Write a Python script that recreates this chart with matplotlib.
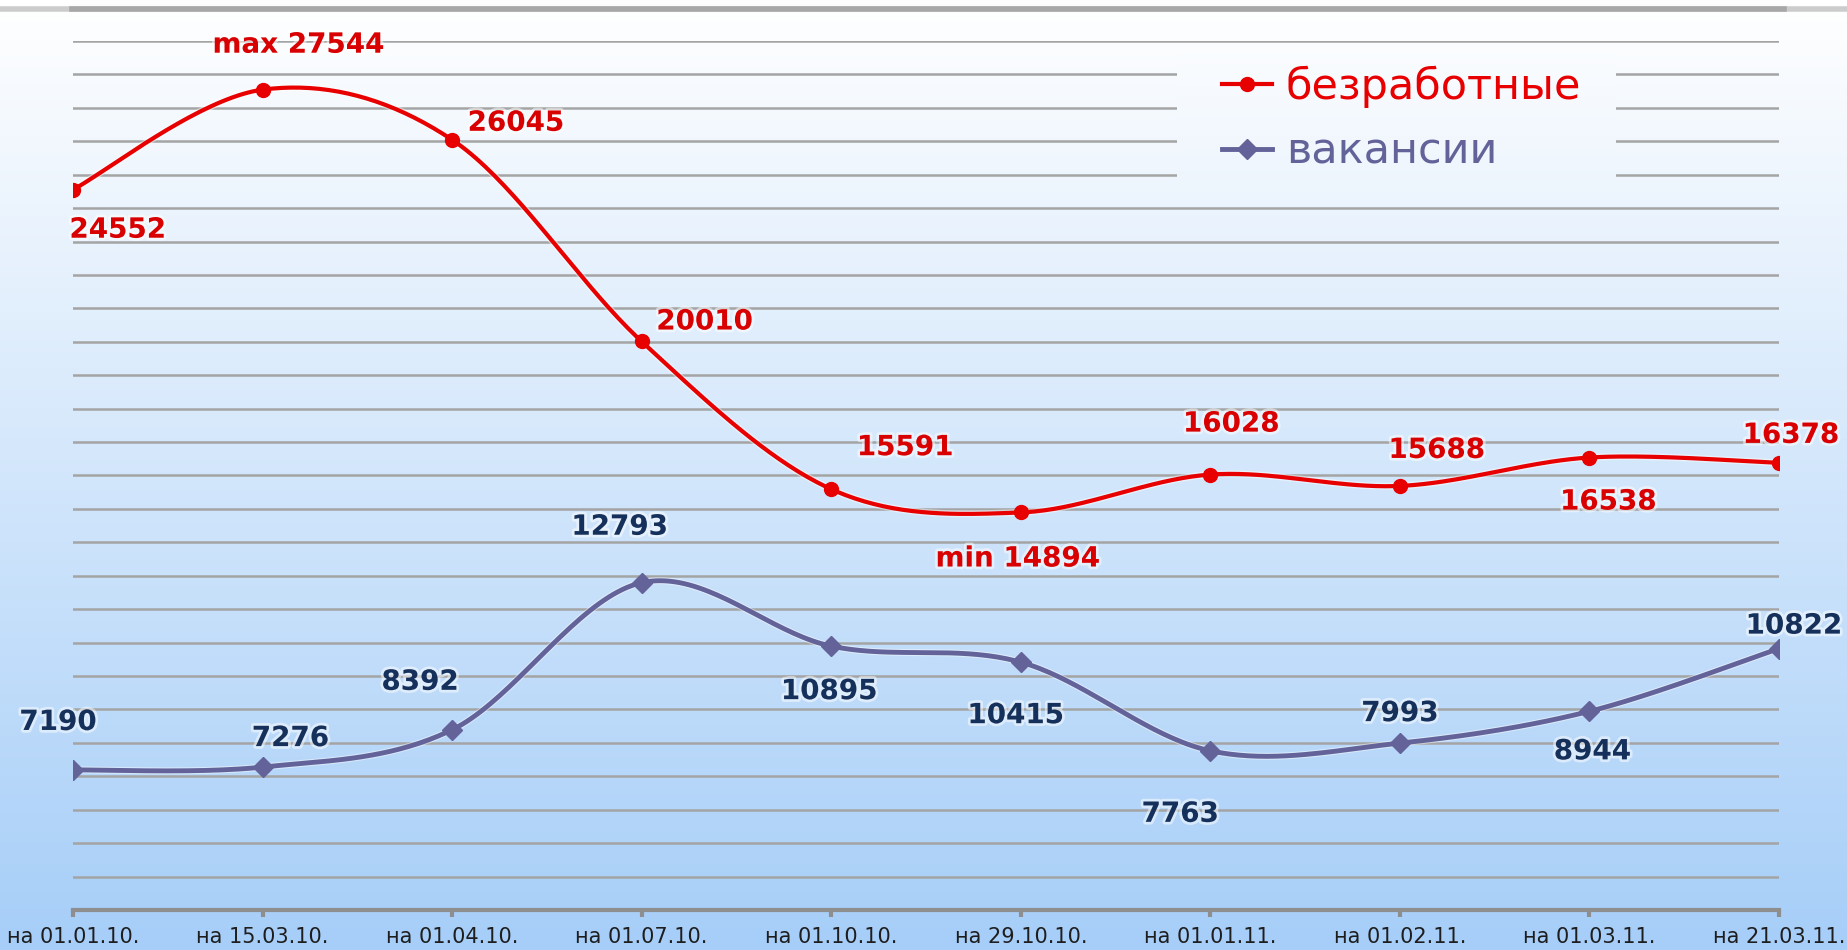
import numpy as np
import matplotlib
matplotlib.use('Agg')
import matplotlib.pyplot as plt
import matplotlib.patheffects as pe
from matplotlib.lines import Line2D
from matplotlib import font_manager

# chart data
dates = ['на 01.01.10.', 'на 15.03.10.', 'на 01.04.10.', 'на 01.07.10.', 'на 01.10.10.',
         'на 29.10.10.', 'на 01.01.11.', 'на 01.02.11.', 'на 01.03.11.', 'на 21.03.11.']
unemployed = [24552, 27544, 26045, 20010, 15591, 14894, 16028, 15688, 16538, 16378]
vacancies = [7190, 7276, 8392, 12793, 10895, 10415, 7763, 7993, 8944, 10822]
unemployed_text = ['24552', 'max 27544', '26045', '20010', '15591',
                   'min 14894', '16028', '15688', '16538', '16378']
vacancies_text = [str(v) for v in vacancies]

# label offsets in pixels (dx, dy) from the marker
unemp_off = [(45, -40), (36, 45), (64, 17), (63, 20), (74, 42),
             (-3, -46), (21, 51), (37, 36), (19, -44), (12, 28)]
vac_off = [(-15, 48), (28, 29), (-32, 48), (-22, 56), (-2, -45),
           (-5, -53), (-30, -63), (0, 30), (3, -40), (15, 23)]

RED = '#e80000'
RED_TXT = '#d80000'
VAC = '#63639a'
VAC_TXT = '#15305a'
W, H = 1847, 950

TOP = np.array([1.0, 1.0, 1.0])
BOTTOM = np.array([166, 206, 248]) / 255


def gradient(y0, y1, n=256):
    # y0, y1 : pixel rows from the top of the figure
    g = np.linspace(y0 / H, y1 / H, n)[:, None, None]
    img = TOP[None, None, :] * (1 - g) + BOTTOM[None, None, :] * g
    return np.repeat(img, 2, axis=1)


# excel-like smoothed line (bezier through points)
def smooth(y, n=40):
    y = np.asarray(y, float)
    x = np.arange(len(y), dtype=float)
    px = np.concatenate([[x[0]], x, [x[-1]]])
    py = np.concatenate([[y[0]], y, [y[-1]]])
    t = np.linspace(0, 1, n, endpoint=False)
    xs, ys = [], []
    for i in range(len(y) - 1):
        for p, out in ((px, xs), (py, ys)):
            p0, p1, p2, p3 = p[i], p[i + 1], p[i + 2], p[i + 3]
            c1 = p1 + (p2 - p0) / 6
            c2 = p2 - (p3 - p1) / 6
            out.append((1 - t) ** 3 * p1 + 3 * (1 - t) ** 2 * t * c1
                       + 3 * (1 - t) * t ** 2 * c2 + t ** 3 * p2)
    xs.append([x[-1]])
    ys.append([y[-1]])
    return np.concatenate(xs), np.concatenate(ys)


fig = plt.figure(figsize=(W / 100, H / 100), dpi=100)

# gradient background
bg = fig.add_axes([0, 0, 1, 1], zorder=0)
bg.imshow(gradient(0, H), aspect='auto', extent=[0, 1, 0, 1], origin='upper')
bg.axis('off')

# top border line
fig.add_artist(Line2D([0, 1], [1 - 9 / H] * 2, color='#cccccc', lw=4))
fig.add_artist(Line2D([72 / W, 1784 / W], [1 - 9 / H] * 2, color='#a8a8a8', lw=4))

ax = fig.add_axes([73 / W, 1 - 910 / H, (1779 - 73) / W, (910 - 41) / H], zorder=1)
ax.set_facecolor('none')
ax.set_xlim(0, 9)
ax.set_ylim(3000, 29000)

ax.set_yticks(range(4000, 29001, 1000))
ax.set_yticklabels([])
ax.tick_params(axis='y', length=0)
ax.yaxis.grid(True, color='#a4a4a4', lw=1.8)
ax.set_axisbelow(True)

for s in ['left', 'right', 'top']:
    ax.spines[s].set_visible(False)
ax.spines['bottom'].set_color('#8e8e8e')
ax.spines['bottom'].set_linewidth(3)

ax.set_xticks(range(len(dates)))
ax.set_xticklabels(dates, fontsize=15, color='#1e1e1e')
ax.tick_params(axis='x', length=5, width=3, color='#8e8e8e', pad=7)

glow = [pe.withStroke(linewidth=5, foreground='white', alpha=0.45)]

sx, sy = smooth(unemployed)
ax.plot(sx, sy, color=RED, lw=3, zorder=4, path_effects=glow)
ax.plot(range(10), unemployed, 'o', color=RED, ms=10, zorder=5)

sx, sy = smooth(vacancies)
ax.plot(sx, sy, color=VAC, lw=3.5, zorder=4, path_effects=glow)
ax.plot(range(10), vacancies, 'D', color=VAC, ms=10, zorder=5)

txt_glow = [pe.withStroke(linewidth=4, foreground='white', alpha=0.5)]
for i, (lbl, off) in enumerate(zip(unemployed_text, unemp_off)):
    ax.annotate(lbl, (i, unemployed[i]), xytext=(off[0] * 0.72, off[1] * 0.72),
                textcoords='offset points', ha='center', va='center',
                fontsize=20, fontweight='bold', color=RED_TXT,
                path_effects=txt_glow, zorder=6, annotation_clip=False)
for i, (lbl, off) in enumerate(zip(vacancies_text, vac_off)):
    ax.annotate(lbl, (i, vacancies[i]), xytext=(off[0] * 0.72, off[1] * 0.72),
                textcoords='offset points', ha='center', va='center',
                fontsize=20, fontweight='bold', color=VAC_TXT,
                path_effects=txt_glow, zorder=6, annotation_clip=False)

# blank patch behind the legend (gridlines stop there)
lx0, lx1, ly0, ly1 = 1177, 1616, 52, 194
patch = fig.add_axes([lx0 / W, 1 - ly1 / H, (lx1 - lx0) / W, (ly1 - ly0) / H], zorder=2)
patch.imshow(gradient(ly0, ly1), aspect='auto', extent=[0, 1, 0, 1], origin='upper')
patch.axis('off')

names = {f.name for f in font_manager.fontManager.ttflist}
if 'Liberation Sans Narrow' in names:
    leg_font = dict(family='Liberation Sans Narrow', size=40)
else:
    leg_font = dict(family='DejaVu Sans', size=31)

handles = [Line2D([], [], color=RED, lw=3, marker='o', ms=10),
           Line2D([], [], color=VAC, lw=3.5, marker='D', ms=10)]
leg = fig.legend(handles, ['безработные', 'вакансии'], loc='upper left',
                 bbox_to_anchor=(1222 / W, 1 - 66 / H), prop=leg_font,
                 frameon=False, handlelength=50 / (leg_font['size'] * 1.389),
                 handletextpad=14 / (leg_font['size'] * 1.389),
                 labelspacing=0.52, borderaxespad=0, borderpad=0)
leg.set_zorder(3)
for t, c in zip(leg.get_texts(), [RED, VAC]):
    t.set_color(c)

fig.savefig('out.png', dpi=100)
